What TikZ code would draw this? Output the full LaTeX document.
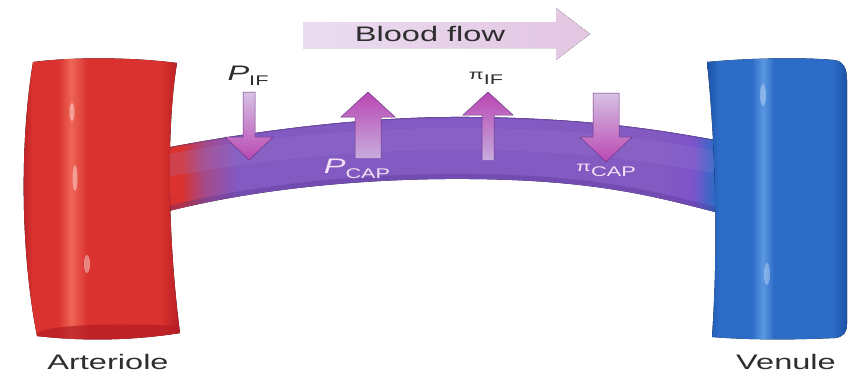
\documentclass[tikz,border=0pt]{standalone}
\usepackage{fontspec}
\setmainfont{Liberation Sans}

\definecolor{artD}{HTML}{B51D24}
\definecolor{artM}{HTML}{DA322F}
\definecolor{artL}{HTML}{EE6656}
\definecolor{venD}{HTML}{1D52A6}
\definecolor{venM}{HTML}{2C6BC6}
\definecolor{venL}{HTML}{5A98E2}
\definecolor{capP}{HTML}{8359C2}
\definecolor{capD}{HTML}{4E2E8A}
\definecolor{capL}{HTML}{A088D8}
\definecolor{capV}{HTML}{7E54CA}
\definecolor{flowA}{HTML}{EADCF0}
\definecolor{flowB}{HTML}{E3C6E2}
\definecolor{arrHead}{HTML}{B947B3}
\definecolor{arrShaft}{HTML}{D7C2E4}
\definecolor{arrEdge}{HTML}{6E3486}
\definecolor{txt}{HTML}{2E2E2E}
\definecolor{txtin}{HTML}{F3E2F3}

\pgfdeclarehorizontalshading{arteriole}{100bp}{color(0bp)=(artD); color(25bp)=(artD);
  color(29bp)=(artM); color(37bp)=(artM); color(41bp)=(artL); color(46bp)=(artM);
  color(69bp)=(artM); color(75bp)=(artD); color(100bp)=(artD)}
\pgfdeclarehorizontalshading{venule}{100bp}{color(0bp)=(venD); color(25bp)=(venD);
  color(29bp)=(venM); color(41bp)=(venM); color(45bp)=(venL); color(49bp)=(venM);
  color(70bp)=(venM); color(75bp)=(venD); color(100bp)=(venD)}
\pgfdeclarehorizontalshading{capillary}{100bp}{color(0bp)=(artM); color(25bp)=(artM);
  color(26.5bp)=(artM); color(28.5bp)=(capP!60!artM); color(31.5bp)=(capP);
  color(70bp)=(capP); color(73bp)=(capV); color(75bp)=(venM); color(100bp)=(venM)}

\def\cappath{(165,148) .. controls (250,132) and (360,116) .. (470,117)
  .. controls (580,118) and (650,128) .. (715,140) -- (715,212)
  .. controls (650,195) and (590,180) .. (470,179)
  .. controls (360,178) and (250,190) .. (165,212) -- cycle}
\newcommand\lowsub[1]{\raisebox{-.45ex}{\fontsize{14}{14}\selectfont #1}}
\newcommand\smallpi{{\fontsize{14}{14}\selectfont π}}

\tikzset{
  lbl/.style={text=txt, font=\fontsize{21}{21}\selectfont, xscale=1.55, inner sep=0pt},
  plbl/.style={lbl, font=\fontsize{21}{21}\selectfont},
  downarr/.style={draw=arrEdge, line width=.5pt, top color=arrShaft, bottom color=arrHead},
  uparr/.style={draw=arrEdge, line width=.5pt, top color=arrHead, bottom color=arrShaft!80!capP},
}

\begin{document}
\begin{tikzpicture}[x=1pt,y=-1pt]
\fill[white] (0,0) rectangle (850,378);
\useasboundingbox (0,0) rectangle (850,378);

\fill[shading=capillary] \cappath;
\begin{scope}
\clip \cappath;
\draw[capD, line width=14pt, opacity=.3] (165,214) .. controls (250,192) and (360,180) .. (470,181)
  .. controls (590,182) and (650,197) .. (715,214);
\draw[capL, line width=22pt, opacity=.18] (165,166) .. controls (250,150) and (360,138) .. (470,139)
  .. controls (580,140) and (650,150) .. (715,162);
\draw[capD, line width=2pt, opacity=.35] (165,148) .. controls (250,132) and (360,116) .. (470,117)
  .. controls (580,118) and (650,128) .. (715,140);
\end{scope}

\fill[shading=arteriole] (33,62) .. controls (80,56) and (140,58) .. (177,63)
  .. controls (166,130) and (168,240) .. (180,333)
  .. controls (130,341) and (80,341) .. (37,336)
  .. controls (20,250) and (20,140) .. (33,62) -- cycle;
\fill[artD, opacity=.7] (37,336) .. controls (33,326) and (100,322) .. (179,326)
  -- (180,333) .. controls (130,341) and (80,341) .. (37,336) -- cycle;
\fill[white, opacity=.4] (72,112) ellipse (2.5 and 9) (75,178) ellipse (2.5 and 13) (87,264) ellipse (3 and 9);

\fill[shading=venule] (707,62) .. controls (750,58) and (800,57) .. (834,60)
  .. controls (843,61) and (847,68) .. (847,80) -- (847,324)
  .. controls (847,333) and (843,337) .. (835,338)
  .. controls (790,340) and (750,340) .. (712,337)
  .. controls (718,250) and (716,150) .. (707,62) -- cycle;
\fill[white, opacity=.3] (763,95) ellipse (3 and 11) (767,274) ellipse (3 and 11);

\fill[left color=flowA, right color=flowB] (303,22) -- (556,22) -- (556,8) -- (590,34)
  -- (556,60) -- (556,48) -- (303,48) -- cycle;
\node[lbl] (flow) at (430,34) {Blood flow};

\draw[downarr] (243,92) -- (255,92) -- (255,137) -- (273,137) -- (249,160) -- (225,137) -- (243,137) -- cycle;
\draw[uparr] (355,158) -- (355,117) -- (341,117) -- (368,92) -- (395,117) -- (381,117) -- (381,158);
\draw[uparr] (482,160) -- (482,115) -- (463,115) -- (488,92) -- (513,115) -- (494,115) -- (494,160);
\draw[downarr] (593,93) -- (619,93) -- (619,137) -- (632,137) -- (606,162) -- (580,137) -- (593,137) -- cycle;

\node[plbl] (pif) at (248,76) {\textit{P}\lowsub{IF}};
\node[plbl] (piif) at (486,78) {\smallpi\lowsub{IF}};
\node[plbl, text=txtin] (pcap) at (357,169) {\textit{P}\lowsub{CAP}};
\node[plbl, text=txtin] (picap) at (606,170) {\smallpi\lowsub{CAP}};

\node[lbl] (art) at (108,362) {Arteriole};
\node[lbl] (ven) at (786,362) {Venule};
\end{tikzpicture}
\end{document}
